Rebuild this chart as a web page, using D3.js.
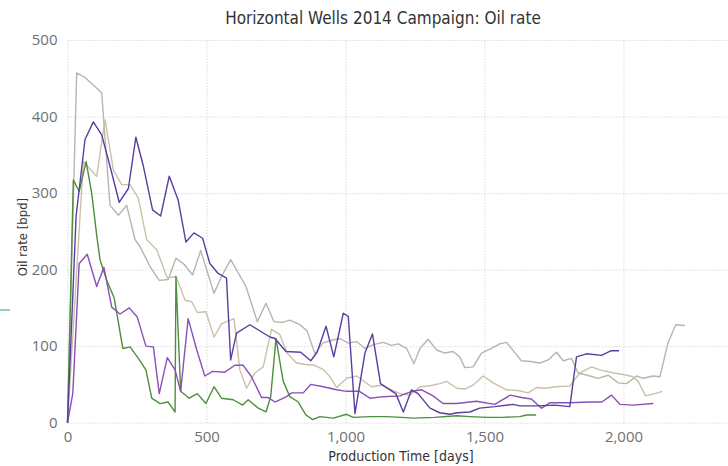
<!DOCTYPE html>
<html lang="en">
<head>
  <meta charset="utf-8">
  <title>Horizontal Wells 2014 Campaign: Oil rate</title>
  <script src="https://d3js.org/d3.v7.min.js"></script>
  <style>
    body { margin: 0; background: #fff; }
    .grid line { stroke: #cacaca; stroke-dasharray: 1,2; }
    .grid .domain { display: none; }
    .tick text { fill: #707070; font-family: "Open Sans", "Noto Sans", sans-serif; font-size: 15px; }
    .title { font-family: "Liberation Sans Narrow", "DejaVu Sans Condensed", Roboto, sans-serif; fill: #333; }
    .wells path { fill: none; stroke-width: 1.4px; stroke-linejoin: round; }
  </style>
</head>
<body>
  <svg width="728" height="466"></svg>
  <script>

    // [days, oil rate bpd]
    var wellGray = [[0,0],[33,457],[63,451],[123,431],[153,284],[183,271],[213,284],[243,239],[261,230],[297,204],
      [330,186],[362,187],[390,215],[419,207],[450,193],[479,225],[527,169],[554,191],[587,213],[642,178],
      [683,132],[714,156],[743,132],[774,131],[800,134],[836,128],[862,120],[890,90],[918,104],[954,108],
      [980,110],[1010,104],[1040,106],[1070,97],[1100,102],[1136,105],[1165,101],[1190,103],[1220,97],[1246,77],
      [1268,97],[1297,109],[1328,95],[1357,91],[1387,93],[1411,86],[1429,72],[1459,73],[1489,91],[1525,97],
      [1555,103],[1579,105],[1633,81],[1665,80],[1699,78],[1729,82],[1759,92],[1783,81],[1813,84],[1837,65],
      [1870,62],[1909,58],[1945,62],[1981,52],[2011,51],[2047,61],[2071,58],[2107,61],[2131,60],[2160,104],
      [2188,128],[2221,127]];

    var wellTan = [[0,0],[57,341],[105,322],[135,396],[165,330],[195,311],[225,311],[255,293],[285,239],[321,226],
      [359,189],[390,191],[423,160],[447,158],[467,144],[498,145],[527,112],[554,129],[599,136],[620,69],
      [644,45],[674,65],[704,73],[734,122],[764,115],[790,91],[824,78],[856,76],[890,75],[922,69],
      [944,60],[968,46],[1004,58],[1040,61],[1094,47],[1130,49],[1160,44],[1196,38],[1232,36],[1268,47],
      [1300,48],[1339,51],[1364,54],[1400,45],[1429,44],[1459,49],[1495,61],[1531,52],[1579,43],[1620,42],
      [1657,39],[1687,46],[1720,45],[1759,47],[1807,48],[1843,65],[1885,73],[1915,69],[1965,65],[1999,63],
      [2035,60],[2053,54],[2080,35],[2113,38],[2140,41]];

    var wellGreen = [[0,0],[21,317],[42,302],[67,341],[87,300],[105,245],[117,213],[141,186],[168,163],[199,97],
      [225,99],[255,84],[282,69],[303,32],[333,25],[362,27],[387,14],[390,191],[407,41],[438,32],
      [467,38],[498,25],[527,47],[554,32],[596,30],[630,23],[650,30],[686,19],[714,14],[731,34],
      [750,110],[776,54],[800,34],[830,27],[858,10],[882,4],[908,8],[956,6],[1004,11],[1028,7],
      [1090,8],[1148,8],[1200,7],[1244,6],[1320,7],[1400,9],[1447,8],[1510,7],[1566,7],[1627,8],
      [1651,10],[1685,10]];

    var wellPurple = [[0,0],[19,38],[42,208],[71,220],[105,178],[131,203],[159,151],[189,142],[222,150],[251,138],
      [282,100],[309,99],[330,38],[359,85],[387,69],[407,41],[434,136],[465,95],[494,61],[522,67],
      [566,66],[602,75],[632,75],[662,60],[698,33],[721,33],[746,27],[788,34],[806,39],[848,39],
      [875,50],[920,47],[968,43],[1004,41],[1050,41],[1088,32],[1136,34],[1196,35],[1238,41],[1274,43],
      [1315,35],[1351,25],[1400,25],[1471,28],[1537,24],[1593,36],[1633,33],[1669,31],[1705,19],[1735,26],
      [1807,26],[1879,27],[1922,27],[1957,36],[1987,24],[2035,23],[2107,25]];

    var wellIndigo = [[0,0],[31,270],[63,370],[93,393],[123,376],[153,335],[186,288],[219,306],[246,373],[273,335],
      [306,278],[335,270],[366,322],[398,291],[426,236],[455,248],[486,241],[512,208],[542,195],[572,189],
      [587,82],[608,117],[656,128],[728,112],[746,110],[786,93],[839,92],[875,81],[898,92],[930,126],
      [958,86],[992,143],[1010,139],[1034,12],[1070,91],[1097,116],[1126,51],[1160,43],[1181,38],[1208,14],
      [1238,43],[1261,38],[1304,19],[1339,13],[1375,11],[1402,13],[1447,14],[1483,19],[1537,21],[1603,24],
      [1627,22],[1687,22],[1753,23],[1807,21],[1831,86],[1867,90],[1921,88],[1954,94],[1984,94]];

    var wells = [
      { name: "gray", color: "#b6b5ae", values: wellGray },
      { name: "tan", color: "#cbc1ab", values: wellTan },
      { name: "green", color: "#4c8f3c", values: wellGreen },
      { name: "purple", color: "#8a50b6", values: wellPurple },
      { name: "indigo", color: "#5a3e9f", values: wellIndigo }
    ];

    var xTicks = [0, 500, 1000, 1500, 2000];
    var yTicks = [0, 100, 200, 300, 400, 500];

    var svg = d3.select("svg"),
      width = +svg.attr("width"),
      height = +svg.attr("height");

    var x = d3.scaleLinear().domain([0, 2376]).range([67.5, width]);
    var y = d3.scaleLinear().domain([0, 500]).range([422.7, 40]);

    // grid
    svg.append("g")
      .attr("class", "grid")
      .attr("transform", "translate(0," + y(0) + ")")
      .call(d3.axisBottom(x).tickValues(xTicks).tickSize(-(y(0) - y(500))).tickFormat(""));
    svg.append("g")
      .attr("class", "grid")
      .attr("transform", "translate(" + x(0) + ",0)")
      .call(d3.axisLeft(y).tickValues(yTicks).tickSize(-(width - x(0))).tickFormat(""));

    // axis labels
    var xAxis = svg.append("g")
      .attr("transform", "translate(0," + y(0) + ")")
      .call(d3.axisBottom(x).tickValues(xTicks).tickSize(0).tickPadding(9).tickFormat(d3.format(",")));
    xAxis.select(".domain").remove();

    var yAxis = svg.append("g")
      .attr("transform", "translate(" + x(0) + ",0)")
      .call(d3.axisLeft(y).tickValues(yTicks).tickSize(0).tickPadding(10));
    yAxis.select(".domain").remove();

    // lines
    var line = d3.line()
      .x(function (d) { return x(d[0]); })
      .y(function (d) { return y(d[1]); });

    svg.append("g")
      .attr("class", "wells")
      .selectAll("path")
      .data(wells)
      .enter().append("path")
      .attr("stroke", function (d) { return d.color; })
      .attr("d", function (d) { return line(d.values); });

    // titles
    svg.append("text")
      .attr("class", "title")
      .attr("x", 383).attr("y", 24)
      .attr("text-anchor", "middle")
      .style("font-size", "17px")
      .text("Horizontal Wells 2014 Campaign: Oil rate");

    svg.append("text")
      .attr("class", "title")
      .attr("x", 401).attr("y", 461)
      .attr("text-anchor", "middle")
      .style("font-size", "14px")
      .text("Production Time [days]");

    svg.append("text")
      .attr("class", "title")
      .attr("transform", "translate(27,237) rotate(-90)")
      .attr("text-anchor", "middle")
      .style("font-size", "13px")
      .text("Oil rate [bpd]");

    // selection marker at the left edge
    svg.append("line")
      .attr("x1", 0).attr("x2", 10).attr("y1", 310).attr("y2", 310)
      .attr("stroke", "#1a9c9c").attr("stroke-width", 1);

  </script>
</body>
</html>
